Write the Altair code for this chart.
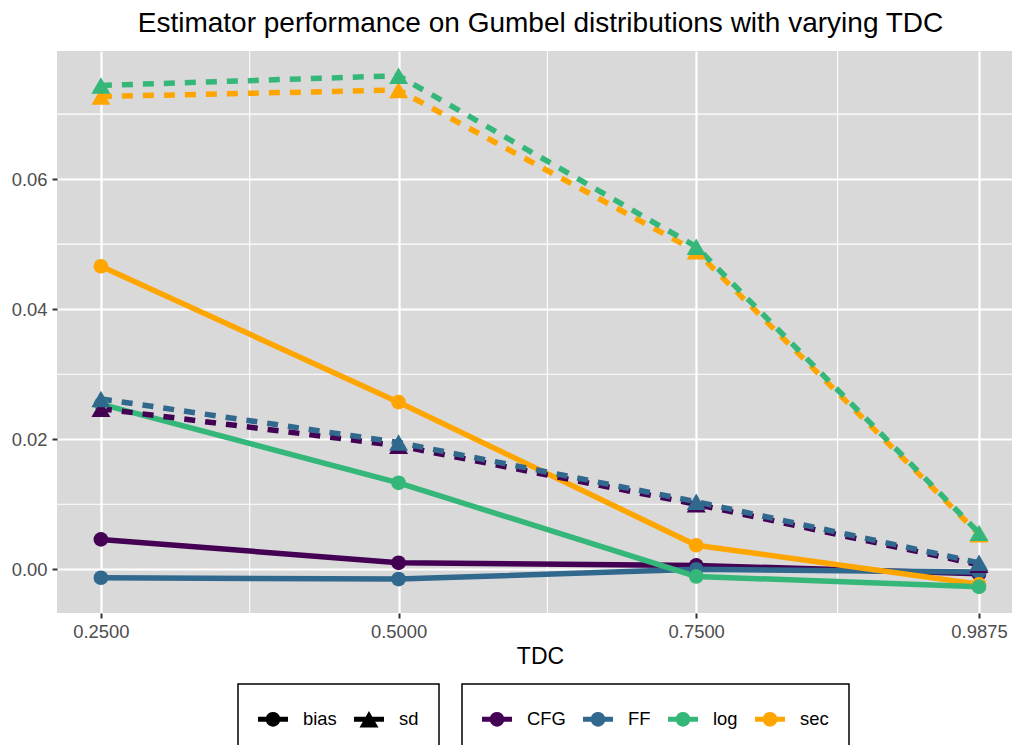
import altair as alt
import pandas as pd

# ---- data ----
tdc = [0.25, 0.5, 0.75, 0.9875]
methods = ["CFG", "FF", "log", "sec"]
method_colors = ["#440154", "#31688E", "#35B779", "#FFA500"]
draw_order = ["CFG", "FF", "sec", "log"]
types = ["bias", "sd"]

bias_CFG = [0.0046, 0.0010, 0.0006, -0.0007]
bias_FF = [-0.0013, -0.0015, 0.0000, -0.0004]
bias_log = [0.0254, 0.0133, -0.0011, -0.0027]
bias_sec = [0.0466, 0.0257, 0.0037, -0.0023]

sd_CFG = [0.0247, 0.0190, 0.0100, 0.0007]
sd_FF = [0.0262, 0.0195, 0.0104, 0.0010]
sd_log = [0.0744, 0.0759, 0.0496, 0.0056]
sd_sec = [0.0727, 0.0737, 0.0489, 0.0054]

x_ticks = [0.25, 0.5, 0.75, 0.9875]
x_minor = [0.375, 0.625, 0.86875]
y_ticks = [0.00, 0.02, 0.04, 0.06]
y_minor = [0.01, 0.03, 0.05, 0.07]

series = {
    ("bias", "CFG"): bias_CFG, ("bias", "FF"): bias_FF,
    ("bias", "log"): bias_log, ("bias", "sec"): bias_sec,
    ("sd", "CFG"): sd_CFG, ("sd", "FF"): sd_FF,
    ("sd", "log"): sd_log, ("sd", "sec"): sd_sec,
}
rows = []
for t in types:
    for m in draw_order:
        for x, v in zip(tdc, series[(t, m)]):
            rows.append({"TDC": x, "value": v, "method": m, "type": t})
df = pd.DataFrame(rows)

FONT = "Liberation Sans"

xscale = alt.Scale(domain=[0.213125, 1.01522], nice=False, zero=False)
yscale = alt.Scale(domain=[-0.00672, 0.0797], nice=False, zero=False)
cscale = alt.Scale(domain=methods, range=method_colors)

xaxis = alt.Axis(values=x_ticks, format=".4f", title="TDC", titleX=483,
                 titleFontSize=23, titlePadding=5, labelPadding=4)
yaxis = alt.Axis(values=y_ticks, format=".2f", title=None, labelPadding=5)

def X(field):
    return alt.X(field, scale=xscale, axis=xaxis)

def Y(field):
    return alt.Y(field, scale=yscale, axis=yaxis)

base = alt.Chart(df).encode(
    x=X("TDC:Q"),
    y=Y("value:Q"),
    color=alt.Color("method:N", scale=cscale, legend=None),
)

# minor grid lines
xminor_layer = alt.Chart(pd.DataFrame({"TDC": x_minor})).mark_rule(
    color="white", strokeWidth=1.1
).encode(x=X("TDC:Q"))
yminor_layer = alt.Chart(pd.DataFrame({"value": y_minor})).mark_rule(
    color="white", strokeWidth=1.1
).encode(y=Y("value:Q"))

lines_bias = base.transform_filter("datum.type == 'bias'").mark_line(strokeWidth=5.5)
lines_sd = base.transform_filter("datum.type == 'sd'").mark_line(
    strokeWidth=5.5, strokeDash=[11, 10]
)
pts_bias = base.transform_filter("datum.type == 'bias'").mark_circle(size=216, opacity=1)
pts_sd = base.transform_filter("datum.type == 'sd'").mark_point(
    shape="triangle-up", filled=True, size=360, opacity=1
)

# legend symbols: line + marker
path_circ = ("M -1 -0.1667 L -0.4608 -0.1667 A 0.49 0.49 0 0 1 0.4608 -0.1667 "
             "L 1 -0.1667 L 1 0.1667 L 0.4608 0.1667 A 0.49 0.49 0 0 1 -0.4608 0.1667 "
             "L -1 0.1667 Z")
path_tri = ("M -1 -0.1667 L -0.2206 -0.1667 L 0 -0.55 L 0.2206 -0.1667 L 1 -0.1667 "
            "L 1 0.1667 L 0.4124 0.1667 L 0.633 0.55 L -0.633 0.55 L -0.4124 0.1667 "
            "L -1 0.1667 Z")

legend_type = alt.Chart(df).transform_filter("false").mark_point(
    filled=True, opacity=1, color="black", size=900
).encode(
    x=X("TDC:Q"),
    y=Y("value:Q"),
    shape=alt.Shape(
        "type:N",
        scale=alt.Scale(domain=types, range=[path_circ, path_tri]),
        legend=alt.Legend(title=None, orient="none", direction="horizontal",
                          legendX=181, legendY=633, symbolSize=900,
                          symbolFillColor="black"),
    ),
)
legend_method = alt.Chart(df).transform_filter("false").mark_point(
    filled=True, opacity=1, size=900
).encode(
    x=X("TDC:Q"),
    y=Y("value:Q"),
    color=alt.Color(
        "method:N", scale=cscale,
        legend=alt.Legend(title=None, orient="none", direction="horizontal",
                          legendX=405, legendY=633, symbolSize=900,
                          symbolType=path_circ),
    ),
)

chart = alt.layer(
    xminor_layer, yminor_layer, lines_bias, lines_sd, pts_bias, pts_sd,
    legend_type, legend_method,
).resolve_legend(
    color="independent", shape="independent"
).properties(
    width=955, height=562,
    autosize=alt.AutoSizeParams(type="none"),
    padding={"left": 57, "top": 51, "right": 0, "bottom": 132},
    title=alt.TitleParams(
        "Estimator performance on Gumbel distributions with varying TDC",
        fontSize=28, font=FONT, fontWeight="normal", color="black",
        anchor="middle", frame="group", offset=12, dx=6,
    ),
).configure_view(
    fill="#D9D9D9", stroke=None
).configure_axis(
    labelFont=FONT, titleFont=FONT, labelFontSize=18.4, labelColor="#4D4D4D",
    titleColor="black", titleFontWeight="normal",
    domain=False, tickColor="#333333", tickSize=5, tickWidth=2,
    gridColor="white", gridWidth=2.2,
).configure_legend(
    labelFont=FONT, labelFontSize=18.4, labelColor="black",
    strokeColor="black", strokeWidth=1.5, padding=20,
    labelOffset=15, columnPadding=17, symbolStrokeWidth=0,
)

chart.save("out.html", embed_options={"renderer": "svg", "actions": False})
